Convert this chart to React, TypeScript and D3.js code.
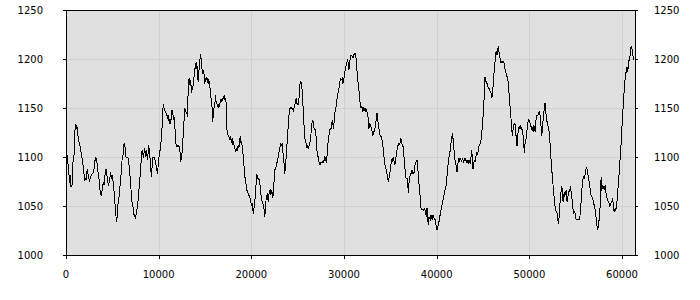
import React from "react";
import * as d3 from "d3";

// Sampling step along the x axis (data units)
const STEP = 72;

const seriesA = [
  1111, 1111, 1094, 1093, 1092, 1073, 1082, 1070, 1070, 1071, 1092, 1097, 1102, 1121, 1134, 1129, 1133, 1128, 1121, 1116,
  1114, 1111, 1107, 1104, 1099, 1095, 1088, 1083, 1077, 1078, 1077, 1083, 1088, 1083, 1080, 1075, 1078, 1080, 1082, 1083,
  1083, 1085, 1088, 1094, 1099, 1099, 1097, 1090, 1085, 1082, 1073, 1066, 1063, 1060, 1065, 1071, 1073, 1071, 1080, 1083,
  1088, 1083, 1078, 1073, 1070, 1077, 1080, 1085, 1078, 1082, 1077, 1073, 1065, 1056, 1048, 1039, 1034, 1043, 1053, 1054,
  1065, 1071, 1078, 1087, 1097, 1100, 1104, 1114, 1112, 1107, 1100, 1100, 1100, 1099, 1095, 1087, 1080, 1070, 1063, 1054,
  1051, 1046, 1041, 1039, 1038, 1041, 1046, 1049, 1056, 1065, 1070, 1080, 1090, 1099, 1107, 1104, 1099, 1104, 1109, 1100,
  1107, 1104, 1097, 1104, 1112, 1104, 1099, 1088, 1080, 1090, 1099, 1100, 1100, 1099, 1095, 1092, 1087, 1083, 1090, 1097,
  1104, 1107, 1111, 1121, 1131, 1148, 1154, 1150, 1148, 1146, 1145, 1143, 1139, 1143, 1138, 1134, 1139, 1134, 1145, 1148,
  1146, 1138, 1141, 1134, 1121, 1112, 1111, 1111, 1112, 1111, 1111, 1104, 1095,
];

const seriesB = [
  1100, 1105, 1116, 1124, 1138, 1150, 1148, 1146, 1145, 1141, 1165, 1179, 1180, 1173, 1179, 1165, 1172, 1168, 1180, 1182,
  1187, 1196, 1190, 1197, 1185, 1177, 1187, 1192, 1201, 1205, 1194, 1189, 1185, 1187, 1184, 1175, 1180, 1179, 1182, 1179,
  1175, 1179, 1175, 1170, 1162, 1158, 1150, 1136, 1148, 1150, 1153, 1163, 1156, 1155, 1151, 1153, 1150, 1153, 1156, 1158,
  1156, 1160, 1158, 1161, 1162, 1158, 1160, 1155, 1128, 1126, 1122, 1121, 1119, 1117, 1121, 1114, 1119, 1112, 1116, 1111,
  1109, 1105, 1109, 1107, 1107, 1112, 1109, 1112, 1121, 1114, 1116, 1111, 1104, 1100, 1088, 1080, 1077, 1071, 1066, 1065,
  1063, 1061, 1060, 1058, 1054, 1051, 1053, 1046, 1042, 1049, 1054, 1065, 1073, 1083, 1078, 1077, 1078, 1077, 1070, 1063,
  1058, 1054, 1053, 1049, 1046, 1039, 1048, 1058, 1060, 1063, 1054, 1061, 1065, 1066, 1061, 1066, 1063, 1058, 1065, 1077,
  1087, 1088, 1090, 1094, 1095, 1100, 1104, 1107, 1111, 1114, 1111, 1114, 1105, 1100, 1092, 1083, 1094, 1099, 1111, 1121,
  1131, 1141, 1148, 1150, 1151, 1150, 1150, 1148, 1146, 1151, 1153, 1158, 1160, 1155, 1155,
];

const seriesC = [
  1153, 1158, 1168, 1177, 1177, 1175, 1167, 1155, 1141, 1129, 1119, 1116, 1114, 1109, 1112, 1109, 1111, 1114, 1116, 1122,
  1131, 1136, 1138, 1133, 1128, 1129, 1126, 1119, 1107, 1104, 1099, 1095, 1093, 1092, 1094, 1094, 1095, 1094, 1095, 1097,
  1100, 1099, 1094, 1100, 1107, 1117, 1122, 1126, 1129, 1128, 1131, 1138, 1133, 1129, 1138, 1145, 1148, 1153, 1158, 1162,
  1167, 1170, 1173, 1179, 1180, 1179, 1180, 1175, 1179, 1182, 1187, 1190, 1194, 1197, 1199, 1196, 1189, 1194, 1201, 1204,
  1204, 1202, 1201, 1202, 1206, 1204, 1206, 1199, 1190, 1179, 1175, 1168, 1162, 1153, 1150, 1151, 1150, 1146, 1151, 1148,
  1150, 1146, 1148, 1146, 1145, 1138, 1129, 1134, 1133, 1131, 1128, 1126, 1122, 1126, 1126, 1129, 1134, 1138, 1145, 1141,
  1133, 1129, 1124, 1121, 1122, 1119, 1116, 1111, 1104, 1097, 1092, 1090, 1087, 1083, 1078, 1075, 1078, 1082, 1087, 1092,
  1097, 1099, 1095, 1100, 1094, 1092, 1097, 1102, 1107, 1111, 1112, 1114, 1112, 1116, 1119, 1116, 1111, 1112, 1104, 1097,
  1088, 1080, 1078, 1078, 1077, 1063, 1073, 1078, 1082, 1083, 1085, 1087, 1083, 1083,
];

const seriesD = [
  1085, 1092, 1094, 1095, 1097, 1090, 1082, 1073, 1065, 1058, 1048, 1047, 1046, 1047, 1046, 1047, 1046, 1043, 1039, 1048,
  1037, 1031, 1039, 1037, 1036, 1041, 1039, 1036, 1041, 1039, 1036, 1037, 1032, 1029, 1026, 1027, 1031, 1034, 1037, 1043,
  1046, 1049, 1053, 1056, 1060, 1063, 1066, 1068, 1073, 1080, 1087, 1095, 1100, 1104, 1107, 1114, 1119, 1124, 1119, 1111,
  1104, 1097, 1094, 1090, 1085, 1090, 1097, 1099, 1095, 1099, 1097, 1095, 1099, 1097, 1095, 1097, 1099, 1097, 1095, 1097,
  1095, 1094, 1097, 1095, 1094, 1100, 1107, 1100, 1088, 1092, 1097, 1095, 1100, 1102, 1105, 1102, 1109, 1111, 1112, 1114,
  1117, 1124, 1131, 1141, 1151, 1165, 1182, 1177, 1177, 1175, 1173, 1170, 1170, 1168, 1167, 1165, 1160, 1163, 1172, 1182,
  1189, 1197, 1206, 1207, 1204, 1209, 1213, 1207, 1202, 1199, 1196, 1197, 1197, 1196, 1197, 1194, 1190, 1187, 1185, 1182,
  1182, 1173, 1165, 1156, 1148, 1139, 1129, 1121, 1128, 1133, 1134, 1133, 1126, 1117, 1111, 1121, 1128, 1131, 1129, 1133,
  1128, 1131, 1126, 1122, 1114, 1104, 1114, 1116, 1122, 1128, 1134, 1138, 1138, 1136,
];

const seriesE = [
  1133, 1131, 1129, 1131, 1126, 1133, 1129, 1126, 1136, 1141, 1143, 1142, 1145, 1145, 1146, 1139, 1131, 1121, 1129, 1138,
  1145, 1150, 1155, 1148, 1139, 1136, 1133, 1129, 1126, 1119, 1107, 1097, 1087, 1080, 1071, 1063, 1056, 1049, 1046, 1044,
  1043, 1037, 1032, 1039, 1048, 1060, 1065, 1070, 1065, 1054, 1061, 1060, 1065, 1061, 1066, 1054, 1058, 1063, 1065, 1066,
  1070, 1065, 1060, 1053, 1046, 1043, 1044, 1043, 1037, 1036, 1036, 1036, 1036, 1036, 1037, 1046, 1054, 1065, 1073, 1078,
  1080, 1078, 1082, 1087, 1090, 1087, 1083, 1080, 1075, 1070, 1065, 1061, 1060, 1058, 1056, 1053, 1049, 1046, 1041, 1034,
  1029, 1026, 1031, 1036, 1044, 1056, 1080, 1065, 1071, 1068, 1070, 1066, 1071, 1065, 1061, 1058, 1056, 1054, 1053, 1049,
  1051, 1053, 1054, 1058, 1053, 1046, 1044, 1048, 1046, 1049, 1056, 1065, 1075, 1083, 1094, 1102, 1114, 1128, 1138, 1151,
  1162, 1172, 1180, 1185, 1189, 1192, 1187, 1196, 1199, 1202, 1207, 1213, 1211, 1207, 1202, 1199, 1199,
];

const values = [...seriesA, ...seriesB, ...seriesC, ...seriesD, ...seriesE];

const xTicks = [0, 10000, 20000, 30000, 40000, 50000, 60000];
const yTicks = [1000, 1050, 1100, 1150, 1200, 1250];
const X_MAX = 61400;
const Y_MIN = 1000;
const Y_MAX = 1250;

const W = 700;
const H = 300;
const LEFT = 66;
const RIGHT = 635;
const TOP = 10;
const BOTTOM = 255;

export default function App() {
  const x = d3.scaleLinear().domain([0, X_MAX]).range([LEFT, RIGHT]);
  const y = d3.scaleLinear().domain([Y_MIN, Y_MAX]).range([BOTTOM, TOP]);
  const line = d3
    .line<number>()
    .x((_, i) => x(i * STEP))
    .y((d) => y(d));

  const font = "'DejaVu Sans', sans-serif";
  const px = (v: number) => Math.round(v) + 0.5;

  return (
    <svg
      width={W}
      height={H}
      style={{ position: "fixed", left: 0, top: 0, background: "#ffffff" }}
    >
      <rect x={LEFT} y={TOP} width={RIGHT - LEFT} height={BOTTOM - TOP} fill="#e0e0e0" />
      {xTicks.slice(1).map((t) => (
        <line key={"gx" + t} x1={px(x(t))} x2={px(x(t))} y1={TOP} y2={BOTTOM} stroke="#d0d0d0" strokeWidth={1} />
      ))}
      {yTicks.slice(1, -1).map((t) => (
        <line key={"gy" + t} x1={LEFT} x2={RIGHT} y1={px(y(t))} y2={px(y(t))} stroke="#d0d0d0" strokeWidth={1} />
      ))}
      <path
        d={line(values) || ""}
        fill="none"
        stroke="#000"
        strokeWidth={1}
        shapeRendering="crispEdges"
      />
      {/* frame */}
      <line x1={px(LEFT)} x2={px(LEFT)} y1={TOP} y2={BOTTOM + 1} stroke="#000" />
      <line x1={px(RIGHT)} x2={px(RIGHT)} y1={TOP} y2={BOTTOM + 1} stroke="#000" />
      <line x1={LEFT} x2={RIGHT + 1} y1={px(TOP)} y2={px(TOP)} stroke="#000" />
      <line x1={LEFT} x2={RIGHT + 1} y1={px(BOTTOM)} y2={px(BOTTOM)} stroke="#000" />
      {/* left ticks and labels */}
      {yTicks.map((t) => (
        <g key={"ly" + t}>
          <line x1={LEFT - 3} x2={LEFT} y1={px(y(t))} y2={px(y(t))} stroke="#000" />
          <text x={43} y={y(t)} dy="0.35em" textAnchor="end" fontFamily={font} fontSize={10} fill="#000">
            {t}
          </text>
        </g>
      ))}
      {/* right ticks and labels */}
      {yTicks.map((t) => (
        <g key={"ry" + t}>
          <line x1={RIGHT} x2={RIGHT + 3} y1={px(y(t))} y2={px(y(t))} stroke="#000" />
          <text x={654} y={y(t)} dy="0.35em" textAnchor="start" fontFamily={font} fontSize={10} fill="#000">
            {t}
          </text>
        </g>
      ))}
      {/* bottom ticks and labels */}
      {xTicks.map((t) => (
        <g key={"bx" + t}>
          <line x1={px(x(t))} x2={px(x(t))} y1={BOTTOM} y2={BOTTOM + 4} stroke="#000" />
          <text x={x(t)} y={278} textAnchor="middle" fontFamily={font} fontSize={10} fill="#000">
            {t}
          </text>
        </g>
      ))}
    </svg>
  );
}
